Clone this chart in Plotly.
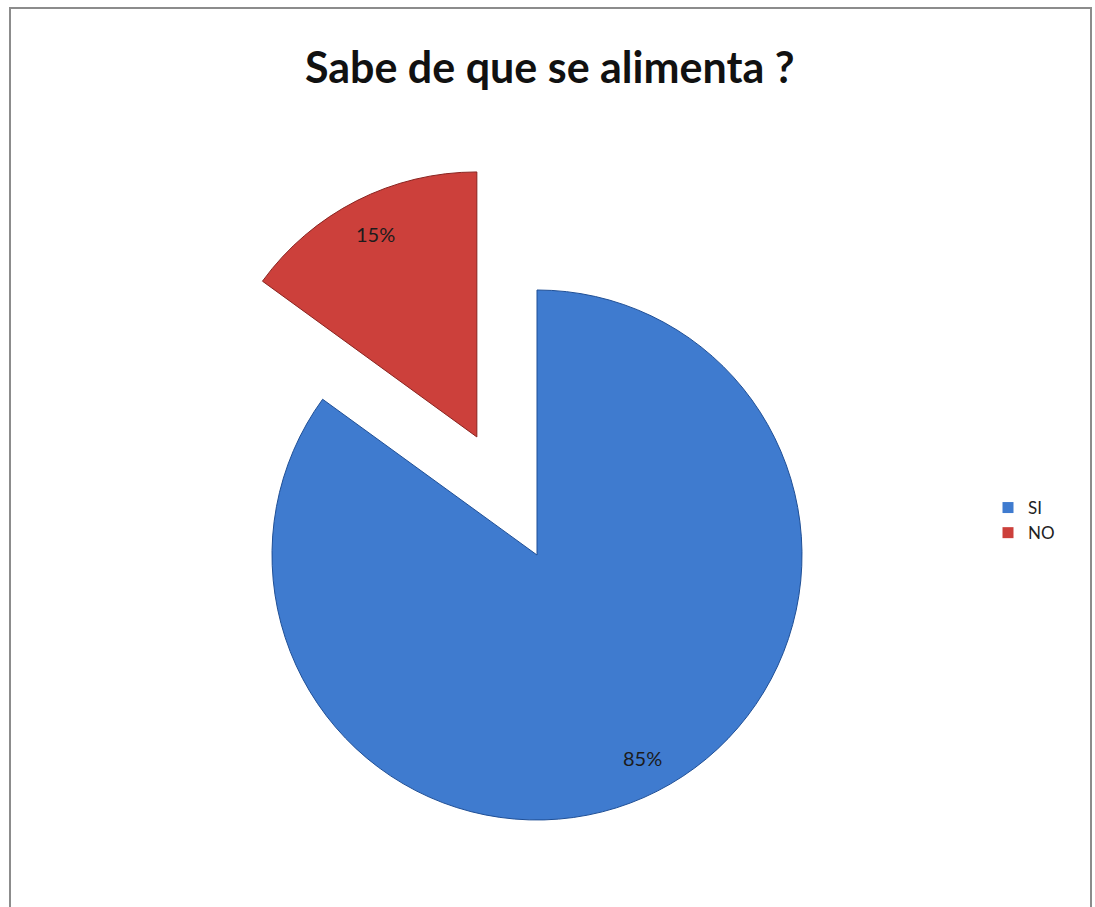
import math
import plotly.graph_objects as go

# Survey answers
categories = ["SI", "NO"]
values = [85, 15]
colors = ["#3f7bcf", "#cc403b"]
edge_colors = ["#1f4f96", "#8a2420"]
explode = [0.0, 0.5]   # fraction of the radius each slice is pulled out

W, H = 1095, 907
cx, cy, r = 537, 555, 265   # pie centre and radius in pixels

total = sum(values)
fig = go.Figure()

start = 0.0
for i, (lab, val) in enumerate(zip(categories, values)):
    frac = val / total
    mid = (start + frac / 2) * 2 * math.pi      # clockwise from 12 o'clock
    dx = explode[i] * r * math.sin(mid)
    dy = -explode[i] * r * math.cos(mid)
    px, py = cx + dx, cy + dy
    slice_colors = ["rgba(0,0,0,0)"] * len(values)
    slice_colors[i] = colors[i]
    line_colors = ["rgba(0,0,0,0)"] * len(values)
    line_colors[i] = edge_colors[i]
    fig.add_trace(go.Pie(
        labels=categories, values=values, sort=False, direction="clockwise",
        rotation=0, marker=dict(colors=slice_colors,
                                line=dict(color=line_colors, width=1)),
        textinfo="none", hoverinfo="label+percent", showlegend=False,
        domain=dict(x=[(px - r) / W, (px + r) / W],
                    y=[1 - (py + r) / H, 1 - (py - r) / H]),
    ))
    # percentage label inside the slice
    lx = px + 0.86 * r * math.sin(mid) + 2
    ly = py - 0.86 * r * math.cos(mid)
    fig.add_annotation(x=lx / W, y=1 - ly / H, xref="paper", yref="paper",
                       xanchor="center", yanchor="middle",
                       text=f"{round(frac * 100)}%", showarrow=False,
                       font=dict(family="Lato", size=20, color="#1c1c1c"))
    start += frac

# legend swatches
for lab, col in zip(categories, colors):
    fig.add_trace(go.Scatter(x=[None], y=[None], mode="markers", name=lab,
                             marker=dict(symbol="square", size=11, color=col)))

fig.update_layout(
    width=W, height=H,
    margin=dict(l=0, r=0, t=0, b=0),
    paper_bgcolor="white", plot_bgcolor="white",
    xaxis=dict(visible=False), yaxis=dict(visible=False),
    title=dict(text="<b>Sabe de que se alimenta ?</b>", x=0.502, xanchor="center",
               y=1 - 68 / H, yanchor="middle",
               font=dict(family="Lato", size=43, color="#111111")),
    legend=dict(x=988 / W, y=1 - 490 / H, xanchor="left", yanchor="top",
                font=dict(family="Lato", size=17, color="#222222"),
                itemwidth=30, tracegroupgap=4, bgcolor="rgba(0,0,0,0)"),
    shapes=[dict(type="rect", xref="paper", yref="paper",
                 x0=10 / W, x1=1091 / W, y0=-0.02, y1=1 - 8 / H,
                 line=dict(color="#8c8c8c", width=2))],
)

fig.write_html("out.html")
